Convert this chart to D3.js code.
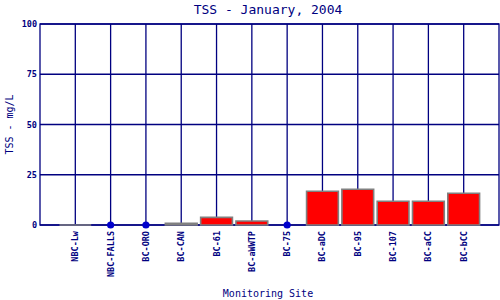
<!DOCTYPE html>
<html>
<head>
<meta charset="utf-8">
<script src="https://cdn.jsdelivr.net/npm/d3@7"></script>
<style>
  body { margin: 0; background: #fff; }
  text { font-family: "DejaVu Sans Mono", "Liberation Mono", monospace; fill: #000080; }
</style>
</head>
<body>
<div id="viz"></div>
<script>
const margin = {top: 24, right: 1, bottom: 75, left: 40};
const width = 500;
const height = 300;

// TSS (mg/L) by site; null = plotted as a dot on the axis
const sites = ['NBC-Lw', 'NBC-FALLS', 'BC-ORO', 'BC-CAN', 'BC-61', 'BC-aWWTP', 'BC-75',
  'BC-aDC', 'BC-95', 'BC-107', 'BC-aCC', 'BC-bCC'];
const tss = [0, null, null, 0.8, 3.8, 2, null, 16.8, 17.8, 11.8, 11.8, 15.8];
const yTicks = [0, 25, 50, 75, 100];

const rows = sites.map((s, i) => ({site: s, value: tss[i]}));

const xScale = d3.scalePoint()
  .domain(sites)
  .range([margin.left, width - margin.right])
  .padding(1);
const yScale = d3.scaleLinear()
  .domain([0, 100])
  .range([height - margin.bottom, margin.top]);
const barW = xScale.step() * 0.9;

const chart = d3.select('#viz')
  .append('svg')
  .attr('width', width)
  .attr('height', height);

// grid
chart.append('g')
  .selectAll('line')
  .data(sites)
  .join('line')
  .attr('x1', d => xScale(d)).attr('x2', d => xScale(d))
  .attr('y1', yScale(100)).attr('y2', yScale(0))
  .attr('stroke', '#000080').attr('stroke-width', 1.3);

chart.append('g')
  .selectAll('line')
  .data(yTicks)
  .join('line')
  .attr('x1', margin.left).attr('x2', width - margin.right)
  .attr('y1', d => yScale(d)).attr('y2', d => yScale(d))
  .attr('stroke', '#000080').attr('stroke-width', 1.3);

chart.append('rect')
  .attr('x', margin.left).attr('y', yScale(100))
  .attr('width', width - margin.right - margin.left)
  .attr('height', yScale(0) - yScale(100))
  .attr('fill', 'none').attr('stroke', '#000080').attr('stroke-width', 1.3);

// bars (as paths so a zero value still shows its outline)
chart.append('g')
  .selectAll('path')
  .data(rows.filter(d => d.value !== null))
  .join('path')
  .attr('d', d => {
    const x0 = xScale(d.site) - barW / 2, x1 = x0 + barW;
    const y0 = yScale(0), y1 = yScale(d.value);
    return `M${x0},${y0}V${y1}H${x1}V${y0}Z`;
  })
  .attr('fill', '#ff0000')
  .attr('stroke', '#808080')
  .attr('stroke-width', 1.6);

// dots for sites with no bar
chart.append('g')
  .selectAll('circle')
  .data(rows.filter(d => d.value === null))
  .join('circle')
  .attr('cx', d => xScale(d.site))
  .attr('cy', yScale(0))
  .attr('r', 3.6)
  .attr('fill', '#0000cc');

// y tick labels
chart.append('g')
  .selectAll('text')
  .data(yTicks)
  .join('text')
  .attr('x', margin.left - 3)
  .attr('y', d => yScale(d) + 3)
  .attr('text-anchor', 'end')
  .attr('font-size', 8.5)
  .attr('font-weight', 'bold')
  .text(d => d);

// x tick labels
chart.append('g')
  .selectAll('text')
  .data(sites)
  .join('text')
  .attr('transform', d => `translate(${xScale(d) + 3},${yScale(0) + 6}) rotate(-90)`)
  .attr('text-anchor', 'end')
  .attr('font-size', 8.5)
  .attr('font-weight', 'bold')
  .text(d => d);

chart.append('text')
  .attr('x', 268).attr('y', 14)
  .attr('text-anchor', 'middle')
  .attr('font-size', 13)
  .text('TSS - January, 2004');

chart.append('text')
  .attr('x', 268).attr('y', 297)
  .attr('text-anchor', 'middle')
  .attr('font-size', 10)
  .text('Monitoring Site');

chart.append('text')
  .attr('transform', `translate(13,${(yScale(0) + yScale(100)) / 2}) rotate(-90)`)
  .attr('text-anchor', 'middle')
  .attr('font-size', 10)
  .text('TSS - mg/L');
</script>
</body>
</html>
